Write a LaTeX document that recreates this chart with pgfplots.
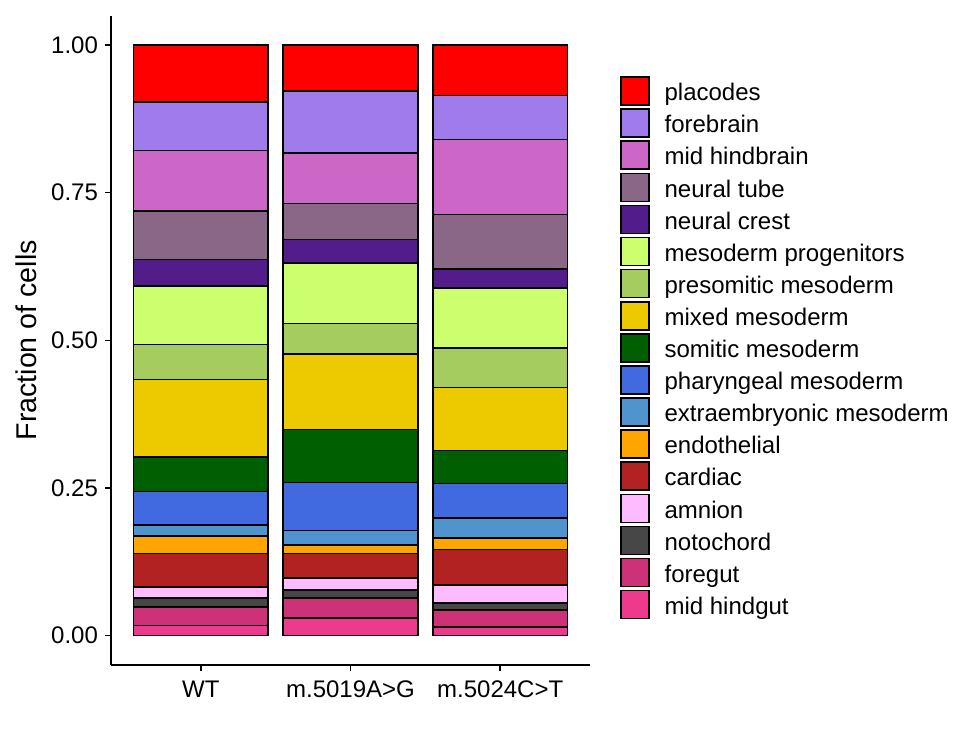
\documentclass[border=0pt]{standalone}
\usepackage{pgfplots}
\usepackage{pgfplotstable}
\pgfplotsset{compat=1.18}
\usepackage{fontspec}
\setmainfont{Liberation Sans}

\definecolor{cPlac}{HTML}{FF0000}
\definecolor{cFore}{HTML}{9F7BEB}
\definecolor{cMidHB}{HTML}{CC66C7}
\definecolor{cNTube}{HTML}{8B6787}
\definecolor{cNCrest}{HTML}{521C8A}
\definecolor{cMesProg}{HTML}{CCFF6E}
\definecolor{cPreso}{HTML}{A4CC5E}
\definecolor{cMixed}{HTML}{EDC900}
\definecolor{cSomitic}{HTML}{005F00}
\definecolor{cPhar}{HTML}{426AE0}
\definecolor{cExtra}{HTML}{4F94CD}
\definecolor{cEndo}{HTML}{FFA500}
\definecolor{cCard}{HTML}{B22222}
\definecolor{cAmn}{HTML}{FFBBFF}
\definecolor{cNoto}{HTML}{474747}
\definecolor{cForegut}{HTML}{CD3278}
\definecolor{cMHG}{HTML}{EE3A8C}

\pgfplotstableread{
x mhg foregut noto amnion cardiac endo extra phar somitic mixed preso mesprog ncrest ntube midhb fore placodes
0 0.0170 0.0310 0.0150 0.0195 0.0565 0.0290 0.0196 0.0564 0.0580 0.1314 0.0593 0.0988 0.0455 0.0816 0.1029 0.0825 0.0960
1 0.0293 0.0339 0.0136 0.0203 0.0419 0.0147 0.0238 0.0818 0.0897 0.1278 0.0515 0.1022 0.0405 0.0610 0.0850 0.1050 0.0780
2 0.0147 0.0282 0.0125 0.0305 0.0594 0.0202 0.0334 0.0587 0.0560 0.1067 0.0667 0.1017 0.0316 0.0927 0.1270 0.0747 0.0853
}\data

\pgfplotsset{
  barkey/.style={fill=#1, draw=black, line width=0.8pt,
    legend image code/.code={\draw[fill=#1, draw=black, line width=0.8pt] (0pt,-7pt) rectangle (14pt,7pt);}},
}

\begin{document}
\begin{tikzpicture}
\path[use as bounding box] (0,0) rectangle (487.5pt,375pt);
\begin{axis}[
  at={(55.5pt,42.5pt)}, anchor=south west,
  scale only axis,
  width=239.5pt, height=324.7pt,
  ybar stacked, bar width=0.9, bar shift=0pt,
  xmin=-0.6, xmax=2.6,
  ymin=-0.05, ymax=1.05,
  axis lines*=left,
  axis line style={line width=0.7pt, black},
  xtick={0,1,2},
  xticklabels={WT, m.5019A>G, m.5024C>T},
  ytick={0,0.25,0.5,0.75,1},
  yticklabel style={/pgf/number format/.cd, fixed, fixed zerofill, precision=2, assume math mode=true},
  tick align=outside,
  major tick length=3pt,
  tick style={line width=0.7pt, black},
  ticklabel style={font=\fontsize{12}{14}\selectfont, text=black},
  xticklabel style={yshift=-1.5pt},
  ylabel={Fraction of cells},
  ylabel style={font=\fontsize{14.3}{16}\selectfont, at={(axis description cs:-0.1775,0.5)}, anchor=center, rotate=0},
  reverse legend,
  legend cell align=left,
  legend style={draw=none, fill=none, inner sep=0pt, outer sep=0pt,
    at={(axis description cs:1.0626,0.9085)}, anchor=north west,
    row sep=0pt, column sep=7.5pt,
    font=\fontsize{12}{14}\selectfont,
    nodes={inner sep=0pt, text height=12.875pt, text depth=3.175pt}},
]
\addplot[barkey=cMHG] table[x=x,y=mhg]{\data}; \addlegendentry{mid hindgut}
\addplot[barkey=cForegut] table[x=x,y=foregut]{\data}; \addlegendentry{foregut}
\addplot[barkey=cNoto] table[x=x,y=noto]{\data}; \addlegendentry{notochord}
\addplot[barkey=cAmn] table[x=x,y=amnion]{\data}; \addlegendentry{amnion}
\addplot[barkey=cCard] table[x=x,y=cardiac]{\data}; \addlegendentry{cardiac}
\addplot[barkey=cEndo] table[x=x,y=endo]{\data}; \addlegendentry{endothelial}
\addplot[barkey=cExtra] table[x=x,y=extra]{\data}; \addlegendentry{extraembryonic mesoderm}
\addplot[barkey=cPhar] table[x=x,y=phar]{\data}; \addlegendentry{pharyngeal mesoderm}
\addplot[barkey=cSomitic] table[x=x,y=somitic]{\data}; \addlegendentry{somitic mesoderm}
\addplot[barkey=cMixed] table[x=x,y=mixed]{\data}; \addlegendentry{mixed mesoderm}
\addplot[barkey=cPreso] table[x=x,y=preso]{\data}; \addlegendentry{presomitic mesoderm}
\addplot[barkey=cMesProg] table[x=x,y=mesprog]{\data}; \addlegendentry{mesoderm progenitors}
\addplot[barkey=cNCrest] table[x=x,y=ncrest]{\data}; \addlegendentry{neural crest}
\addplot[barkey=cNTube] table[x=x,y=ntube]{\data}; \addlegendentry{neural tube}
\addplot[barkey=cMidHB] table[x=x,y=midhb]{\data}; \addlegendentry{mid hindbrain}
\addplot[barkey=cFore] table[x=x,y=fore]{\data}; \addlegendentry{forebrain}
\addplot[barkey=cPlac] table[x=x,y=placodes]{\data}; \addlegendentry{placodes}
\end{axis}
\end{tikzpicture}
\end{document}
